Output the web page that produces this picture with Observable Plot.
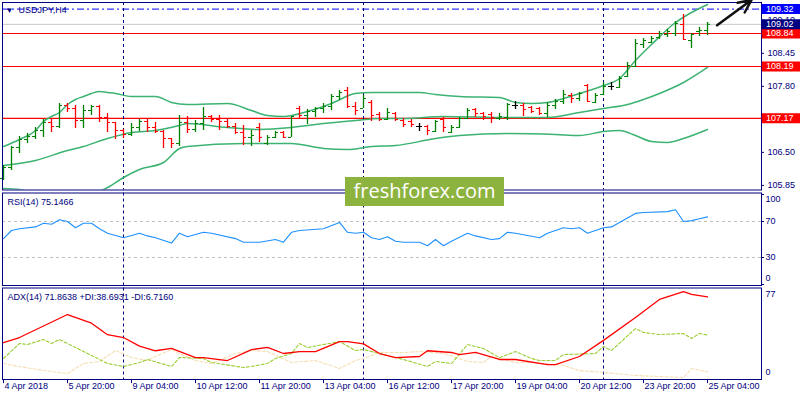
<!DOCTYPE html>
<html><head><meta charset="utf-8">
<script src="https://cdn.jsdelivr.net/npm/d3@7"></script>
<script src="https://cdn.jsdelivr.net/npm/@observablehq/plot@0.6"></script>
<style>
html,body{margin:0;padding:0;background:#fff;}
#chart{position:relative;width:800px;height:400px;overflow:hidden;font-family:"Liberation Sans",Arial,sans-serif;}
#chart .pane{position:absolute;left:0;}
#wm{position:absolute;left:345px;top:177px;width:159px;height:29px;background:#8db33f;color:#fff;font-family:"Open Sans",sans-serif;font-size:20px;line-height:28px;text-align:center;}
</style></head><body><div id="chart"></div>
<script>
// ---------- DATA ----------
const symbolLabel = "USDJPY,H4";
const tickIndex = [0, 8, 16, 24, 32, 40, 48, 56, 64, 72, 80, 88];
const tickLabels = ["4 Apr 2018", "5 Apr 20:00", "9 Apr 04:00", "10 Apr 12:00", "11 Apr 20:00", "13 Apr 04:00",
  "16 Apr 12:00", "17 Apr 20:00", "19 Apr 04:00", "20 Apr 12:00", "23 Apr 20:00", "25 Apr 04:00"];
const weekSeparators = [15, 45, 75];

const open = [105.986,106.202,106.596,106.753,106.812,106.930,107.088,107.009,107.422,107.363,
  107.127,107.324,107.403,107.186,107.088,106.930,106.852,106.989,107.108,106.989,
  106.911,106.773,106.674,107.088,106.950,107.068,107.206,107.147,107.108,107.009,
  106.891,106.793,106.989,106.674,106.793,106.891,106.793,107.363,107.226,107.304,
  107.363,107.403,107.600,107.718,107.403,107.363,107.482,107.245,107.147,107.265,
  107.127,107.108,107.009,107.009,106.911,107.147,106.891,106.989,107.167,107.344,
  107.265,107.245,107.167,107.186,107.422,107.422,107.383,107.363,107.265,107.422,
  107.501,107.619,107.560,107.816,107.482,107.639,107.797,107.777,107.993,108.190,
  108.623,108.663,108.761,108.820,108.840,109.017,108.702,108.879,108.899];
const high = [106.241,106.615,106.812,106.871,106.989,107.147,107.147,107.462,107.462,107.422,
  107.422,107.422,107.422,107.265,107.088,106.950,107.068,107.147,107.167,107.088,
  106.930,106.773,107.226,107.206,107.127,107.383,107.226,107.226,107.147,107.068,
  107.029,106.930,107.068,106.832,106.911,106.911,107.206,107.403,107.344,107.383,
  107.462,107.639,107.718,107.777,107.482,107.619,107.521,107.285,107.363,107.285,
  107.167,107.147,107.068,107.029,107.127,107.186,107.029,107.186,107.363,107.363,
  107.285,107.285,107.265,107.462,107.501,107.462,107.403,107.383,107.482,107.541,
  107.718,107.659,107.678,107.836,107.659,107.875,107.875,107.993,108.269,108.722,
  108.741,108.781,108.879,108.919,109.076,109.214,108.840,108.958,109.056];
const low = [105.946,106.143,106.478,106.674,106.753,106.793,106.891,106.970,107.285,106.970,
  106.970,107.226,107.088,106.891,106.753,106.773,106.812,106.911,106.891,106.871,
  106.576,106.576,106.615,106.871,106.891,106.930,107.088,106.930,106.970,106.852,
  106.635,106.615,106.694,106.635,106.773,106.773,106.793,107.167,107.048,107.186,
  107.265,107.324,107.521,107.363,107.226,107.363,107.108,107.108,107.127,107.108,
  106.989,106.989,106.911,106.832,106.891,106.891,106.871,106.970,107.147,107.186,
  107.127,107.068,107.127,107.127,107.344,107.206,107.265,107.226,107.186,107.344,
  107.442,107.462,107.501,107.482,107.462,107.619,107.718,107.757,107.974,108.171,
  108.544,108.643,108.722,108.761,108.781,108.702,108.544,108.781,108.800];
const close = [106.202,106.596,106.753,106.812,106.930,107.088,107.009,107.422,107.363,107.127,
  107.324,107.403,107.186,107.088,106.930,106.852,106.989,107.108,106.989,106.911,
  106.773,106.674,107.088,106.950,107.068,107.206,107.147,107.108,107.009,106.891,
  106.793,106.832,106.793,106.793,106.891,106.793,107.206,107.226,107.304,107.363,
  107.403,107.600,107.678,107.403,107.324,107.560,107.226,107.147,107.285,107.147,
  107.048,107.048,107.009,106.930,107.108,106.989,106.989,107.167,107.324,107.265,
  107.206,107.186,107.206,107.442,107.422,107.344,107.304,107.265,107.422,107.501,
  107.639,107.560,107.659,107.501,107.619,107.797,107.797,107.954,108.210,108.643,
  108.702,108.741,108.840,108.879,109.037,108.722,108.820,108.899,109.020];

const bbUpper = [[0,106.615],[2,106.753],[4,106.930],[5,107.108],[6,107.206],[7,107.285],[8,107.442],[9,107.541],
  [10,107.600],[11,107.659],[12,107.698],[13,107.678],[14,107.659],[16,107.600],[19,107.600],[21,107.482],
  [23,107.442],[28,107.462],[31,107.324],[33,107.226],[35,107.206],[38,107.304],[41,107.462],[44,107.659],
  [46,107.678],[52,107.678],[54,107.639],[57,107.600],[62,107.580],[64,107.482],[66,107.462],[68,107.482],
  [70,107.560],[72,107.659],[75,107.816],[77,107.954],[79,108.308],[81,108.623],[84,109.056],[86,109.253],[88,109.411]];
const bbMiddle = [[0,106.241],[4,106.340],[8,106.537],[10,106.615],[13,106.773],[16,106.891],[19,106.930],
  [22,107.029],[23,107.068],[28,106.989],[32,106.950],[36,106.989],[40,107.068],[44,107.127],[47,107.167],
  [50,107.167],[55,107.206],[63,107.186],[68,107.186],[72,107.285],[75,107.363],[78,107.442],[80,107.541],
  [82,107.659],[85,107.875],[88,108.171]];
const bbLower = [[0,105.789],[2,105.769],[5,105.631],[8,105.474],[10,105.592],[12,105.730],[13,105.808],
  [15,106.005],[17,106.163],[20,106.300],[22,106.576],[23,106.615],[30,106.674],[36,106.674],[40,106.576],
  [43,106.556],[46,106.615],[49,106.635],[54,106.773],[57,106.832],[63,106.871],[69,106.852],[72,106.832],
  [75,106.911],[77,106.930],[79,106.832],[81,106.714],[83,106.694],[85,106.773],[88,106.950]];

const supportLevels = [108.84, 108.19, 107.17];
const targetLevel = 109.32;
const lastPrice = 109.02;
const priceTicks = [109.10, 108.45, 107.80, 107.15, 106.50, 105.85];
const priceTags = [
  {v: 108.84, bg: "#ff0000"}, {v: 108.19, bg: "#ff0000"}, {v: 107.17, bg: "#ff0000"},
  {v: 109.32, bg: "#0000ff"}, {v: 109.02, bg: "#000080"}];

const rsiTitle = "RSI(14) 75.1466";
const rsiLevels = [70, 30];
const rsi = [[0,51],[1,60],[2,62],[4,64],[5,68],[6,67],[7,72],[8,70],[9,63],[10,68],[11,68],[12,62],[13,57],
  [15,52],[17,57],[18,54],[19,52],[21,46],[22,57],[23,53],[25,58],[26,57],[29,51],[30,47],[32,47],[34,50],
  [35,47],[36,58],[37,60],[40,62],[42,69],[43,58],[44,57],[45,58],[46,52],[47,50],[48,53],[49,48],[50,47],
  [52,47],[53,43],[54,50],[55,43],[56,48],[58,57],[59,54],[61,50],[62,51],[63,58],[64,57],[67,52],[68,57],
  [70,63],[71,62],[72,63],[73,57],[75,63],[76,64],[79,79],[80,80],[83,81],[84,83],[85,70],[86,71],[87,73],[88,75.1466]];

const adxTitle = "ADX(14) 71.8638 +DI:38.6931 -DI:6.7160";
const adx = [[0,32],[2,36.5],[8,56.5],[11,49],[13,39],[15,36.5],[17,29],[19,25],[21,27],[24,19],[25,19],
  [28,16.5],[31,26],[33,28],[35,22.6],[37,24.3],[39,24.3],[42,33],[43,33],[45,31],[47,22.6],[49,19],[52,20],
  [53,25],[56,23.5],[57,21.7],[59,23.5],[62,17.4],[64,17.4],[68,13],[69,13],[72,20],[75,34],[79,54],[82,69.6],
  [85,76.5],[86,74],[88,71.8638]];
const plusDI = [[0,18.3],[2,31.3],[3,30.4],[5,34.8],[6,31.3],[7,34.8],[9,27.8],[11,20.9],[13,13.9],[15,11.3],
  [17,14.8],[18,17.4],[21,11.3],[22,19.1],[25,18.3],[26,14.8],[30,10.4],[31,11.3],[33,13.9],[34,18.3],[36,22.6],
  [37,31.3],[38,27.8],[40,30.4],[42,33],[44,25.2],[45,26.1],[47,22.6],[50,17.4],[53,11.3],[54,15.7],[56,13.9],
  [58,30.4],[60,27],[62,19.1],[64,24.3],[66,18.3],[67,16.5],[69,16.5],[70,21.7],[74,22.6],[75,28.7],[76,25.2],
  [79,44.3],[80,40.9],[82,39.1],[85,40],[86,35.7],[87,40],[88,38.6931]];
const minusDI = [[0,13.9],[2,11.3],[5,7.8],[8,5.2],[10,13.9],[12,15.7],[14,25.2],[16,19.1],[18,16.5],[19,20],
  [21,26.1],[22,22.6],[24,16.5],[26,13.9],[29,22.6],[31,25.2],[33,24.3],[36,14.8],[39,16.5],[42,9.6],[44,16.5],
  [45,18.3],[47,23.5],[50,23.5],[52,24.3],[55,22.6],[58,15.7],[60,14.8],[61,20],[64,14.8],[66,14.8],[70,12.2],
  [72,7.8],[75,6.1],[79,3.5],[82,2.6],[85,1.7],[86,9.6],[88,6.716]];
const adxScaleLabels = ["77", "0"];

const watermark = "freshforex.com";

// ---------- BUILD ----------
const NAVY = "#000080", GREEN = "#008000", RED = "#ff0000", BAND = "#3cb371";
const XD = [-0.125, 94.75], XR = XD[1];
const bars = open.map((o, i) => ({i, open: o, high: high[i], low: low[i], close: close[i],
  col: close[i] > o ? GREEN : close[i] < o ? RED : "#000000"}));
const lastI = bars.length - 1;
const arrowAnno = [{x1: lastI + 1.2, y1: lastPrice - 0.02, x2: lastI + 5.5, y2: 109.5}];

const style = {background: "transparent", overflow: "visible", fontFamily: "'Liberation Sans', Arial, sans-serif", fontSize: "9px"};
function pane(top, height, mt, mb, ydomain, marks) {
  const svg = Plot.plot({width: 800, height, marginLeft: 2, marginRight: 39, marginTop: mt, marginBottom: mb,
    x: {domain: XD, axis: null}, y: {domain: ydomain, axis: null}, style, marks});
  const d = document.createElement("div");
  d.className = "pane"; d.style.top = top + "px";
  d.appendChild(svg);
  document.getElementById("chart").appendChild(d);
}
const P = d => d[0], V = d => d[1];
const f2 = d3.format(".2f");

// price pane
pane(0, 190, 2, 0.5, [105.759, 109.45], [
  Plot.ruleY([lastPrice], {stroke: "#c8c8c8"}),
  Plot.ruleY(supportLevels, {stroke: RED, strokeWidth: 1.2}),
  Plot.ruleY([targetLevel], {stroke: "#0000ff", strokeDasharray: "7,3,2,3"}),
  Plot.ruleX(weekSeparators, {stroke: NAVY, strokeDasharray: "3,3"}),
  Plot.line(bbUpper, {x: P, y: V, stroke: BAND, curve: "monotone-x", clip: true}),
  Plot.line(bbMiddle, {x: P, y: V, stroke: BAND, curve: "monotone-x", clip: true}),
  Plot.line(bbLower, {x: P, y: V, stroke: BAND, curve: "monotone-x", clip: true}),
  Plot.ruleX(bars, {x: "i", y1: "low", y2: "high", stroke: "col", strokeWidth: 1.3}),
  Plot.ruleY(bars, {y: "open", x1: d => d.i - 0.375, x2: d => d.i, stroke: "col"}),
  Plot.ruleY(bars, {y: "close", x1: d => d.i, x2: d => d.i + 0.375, stroke: "col"}),
  Plot.frame({stroke: NAVY}),
  Plot.ruleY(priceTicks, {x1: () => XR, x2: () => XR + 0.375, stroke: NAVY}),
  Plot.text(priceTicks, {x: () => XR, y: d => d, dx: 6, text: f2, textAnchor: "start", fill: NAVY}),
  Plot.ruleY(priceTags, {y: "v", x1: () => XR + 0.1, x2: () => XR + 5, stroke: "bg", strokeWidth: 10}),
  Plot.text(priceTags, {x: () => XR, y: "v", dx: 4.5, text: d => f2(d.v), textAnchor: "start", fill: "#ffffff"}),
  Plot.text(["▼"], {frameAnchor: "top-left", dx: 7, dy: 8, text: d => d, fill: NAVY, fontSize: 8, textAnchor: "middle", lineAnchor: "middle"}),
  Plot.text([symbolLabel], {frameAnchor: "top-left", dx: 16, dy: 8, text: d => d, fill: NAVY, textAnchor: "start", lineAnchor: "middle"}),
  Plot.arrow(arrowAnno, {x1: "x1", y1: "y1", x2: "x2", y2: "y2", stroke: "#111", strokeWidth: 2.5, headLength: 11, headAngle: 50})
]);

// RSI pane
pane(190, 96, 2.5, 1, [-1.11, 101.67], [
  Plot.ruleY(rsiLevels, {stroke: "#c0c0c0", strokeDasharray: "3,3"}),
  Plot.ruleX(weekSeparators, {stroke: NAVY, strokeDasharray: "3,3"}),
  Plot.line(rsi, {x: P, y: V, stroke: "#1e90ff", strokeWidth: 1.1}),
  Plot.frame({stroke: NAVY}),
  Plot.ruleY([100, 70, 30, 0], {x1: () => XR, x2: () => XR + 0.375, stroke: NAVY}),
  Plot.text(rsiLevels, {x: () => XR, y: d => d, dx: 4, text: d => String(d), textAnchor: "start", fill: NAVY}),
  Plot.text([100], {x: () => XR, y: d => d, dx: 4, dy: 5, text: d => String(d), textAnchor: "start", fill: NAVY}),
  Plot.text([0], {x: () => XR, y: d => d, dx: 4, dy: -6, text: d => String(d), textAnchor: "start", fill: NAVY}),
  Plot.text([rsiTitle], {frameAnchor: "top-left", dx: 5, dy: 9, text: d => d, fill: NAVY, textAnchor: "start", lineAnchor: "middle"})
]);

// ADX pane + time axis
pane(285, 115, 2.5, 21, [0, 79.57], [
  Plot.ruleX(weekSeparators, {stroke: NAVY, strokeDasharray: "3,3"}),
  Plot.line(minusDI, {x: P, y: V, stroke: "#f5deb3", strokeDasharray: "3,2", strokeWidth: 1.1}),
  Plot.line(plusDI, {x: P, y: V, stroke: "#9acd32", strokeDasharray: "3,2", strokeWidth: 1.1}),
  Plot.line(adx, {x: P, y: V, stroke: RED, strokeWidth: 1.3}),
  Plot.frame({stroke: NAVY}),
  Plot.text([adxScaleLabels[0]], {x: () => XR, y: () => 77, dx: 4, dy: 3.5, text: d => d, textAnchor: "start", fill: NAVY}),
  Plot.text([adxScaleLabels[1]], {x: () => XR, y: () => 0, dx: 4, dy: -7, text: d => d, textAnchor: "start", fill: NAVY}),
  Plot.text([adxTitle], {frameAnchor: "top-left", dx: 5, dy: 9, text: d => d, fill: NAVY, textAnchor: "start", lineAnchor: "middle"}),
  Plot.ruleX(tickIndex, {x: d => d, y1: () => 0, y2: () => -3.6, stroke: NAVY}),
  Plot.text(tickIndex, {x: d => d, frameAnchor: "bottom", dy: 9.5, dx: 1, text: (d, k) => tickLabels[k], textAnchor: "start", fill: NAVY})
]);

const wm = document.createElement("div");
wm.id = "wm"; wm.textContent = watermark;
document.getElementById("chart").appendChild(wm);
</script></body></html>
